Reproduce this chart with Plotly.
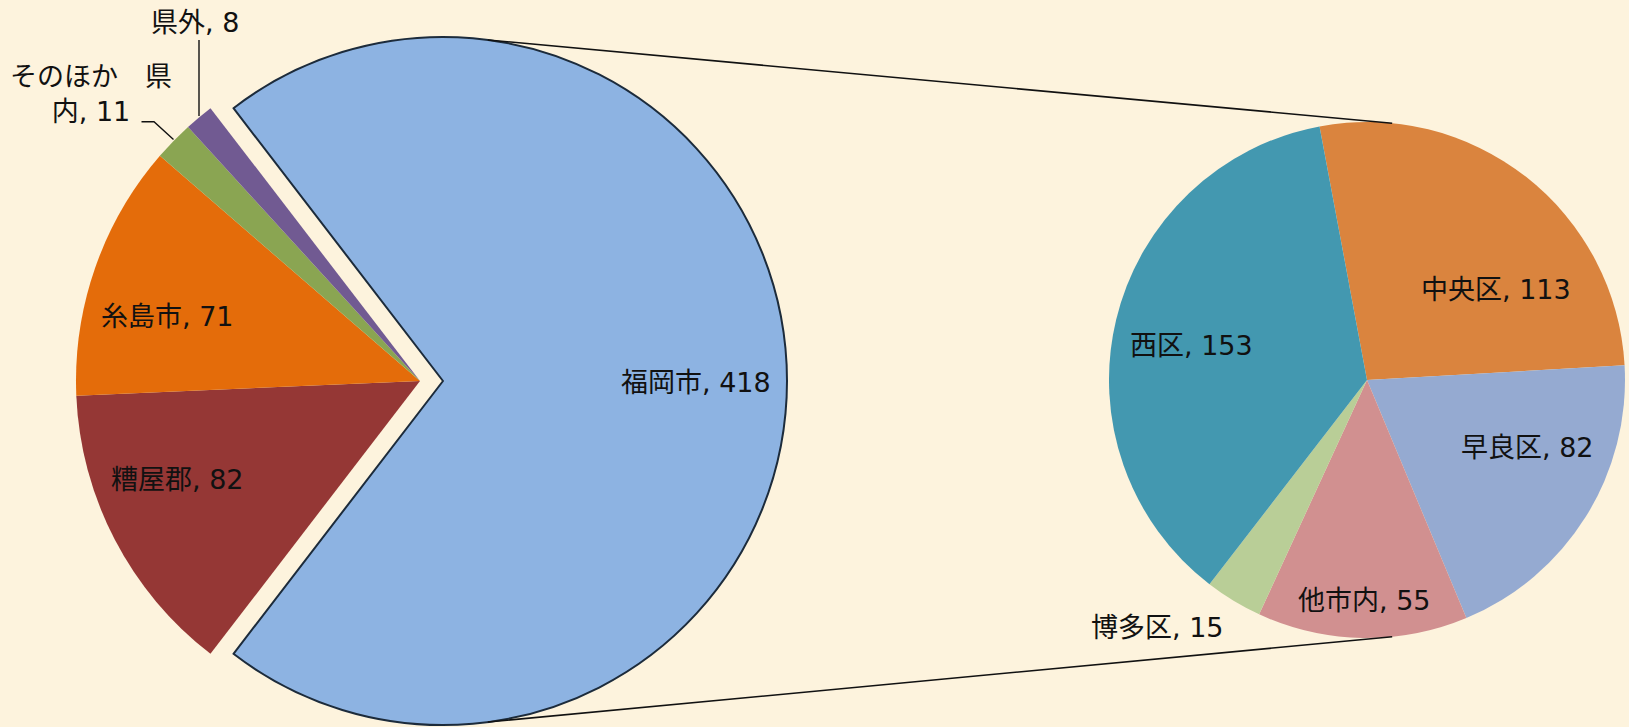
import math
import plotly.graph_objects as go

W, H = 1629, 727

# ---- data ----
left_labels = ["福岡市", "糟屋郡", "糸島市", "そのほか県内", "県外"]
left_values = [418, 82, 71, 11, 8]
left_colors = ["#8DB3E2", "#953735", "#E46C0A", "#8AA552", "#715A92"]

right_labels = ["中央区", "早良区", "他市内", "博多区", "西区"]
right_values = [113, 82, 55, 15, 153]
right_colors = ["#DA843E", "#95AAD1", "#D19090", "#B9CE97", "#4398B0"]

BG = "#FDF3DD"
FONT = "DejaVu Sans, Noto Sans CJK JP, sans-serif"
FS = 27

# ---- geometry (pixels) ----
L_CX, L_CY, L_R = 420, 381, 344
PULL_PX = 23
R_CX, R_CY, R_R = 1367, 380, 258


def px(x):
    return x / W


def py(y):
    return 1 - y / H


def domain(cx, cy, r):
    hw = r + 1
    return dict(x=[px(cx - hw), px(cx + hw)], y=[py(cy + r), py(cy - r)])


TRANSP = "rgba(0,0,0,0)"
total_l = sum(left_values)
rot_l = -(left_values[0] / total_l * 180 - 90)

fig = go.Figure()

# small slices of left pie (big slice transparent)
fig.add_trace(go.Pie(
    labels=left_labels, values=left_values, sort=False, direction="clockwise",
    rotation=rot_l, domain=domain(L_CX, L_CY, L_R),
    marker=dict(colors=[TRANSP] + left_colors[1:],
                line=dict(width=[0] * len(left_values), color=TRANSP)),
    textinfo="none", showlegend=False, hoverinfo="label+value",
))
# exploded big slice
fig.add_trace(go.Pie(
    labels=left_labels, values=left_values, sort=False, direction="clockwise",
    rotation=rot_l, domain=domain(L_CX + PULL_PX, L_CY, L_R),
    marker=dict(colors=[left_colors[0]] + [TRANSP] * (len(left_values) - 1),
                line=dict(width=[2] + [0] * (len(left_values) - 1), color="#1C2B3B")),
    textinfo="none", showlegend=False, hoverinfo="label+value",
))
# right pie
fig.add_trace(go.Pie(
    labels=right_labels, values=right_values, sort=False, direction="clockwise",
    rotation=-10.6, domain=domain(R_CX, R_CY, R_R),
    marker=dict(colors=right_colors, line=dict(width=0)),
    textinfo="none", showlegend=False, hoverinfo="label+value",
))

# ---- labels ----
label_pos_left = {
    "福岡市": (696, 382),
    "糟屋郡": (177, 479),
    "糸島市": (167, 316),
    "そのほか県内": (91, 94),
    "県外": (195, 22),
}
label_pos_right = {
    "中央区": (1496, 289),
    "早良区": (1527, 447),
    "他市内": (1364, 600),
    "西区": (1191, 345),
    "博多区": (1157, 627),
}
annotations = []
for lab, val in zip(left_labels, left_values):
    x, y = label_pos_left[lab]
    txt = f"{lab}, {val}"
    if lab == "そのほか県内":
        txt = f"{lab[:4]}　{lab[4]}<br>{lab[5:]}, {val}"
    annotations.append(dict(x=px(x), y=py(y), xref="paper", yref="paper", text=txt,
                            showarrow=False, xanchor="center", yanchor="middle",
                            font=dict(family=FONT, size=FS, color="#111111")))
for lab, val in zip(right_labels, right_values):
    x, y = label_pos_right[lab]
    annotations.append(dict(x=px(x), y=py(y), xref="paper", yref="paper",
                            text=f"{lab}, {val}", showarrow=False,
                            xanchor="center", yanchor="middle",
                            font=dict(family=FONT, size=FS, color="#111111")))

# ---- connector lines ----
shapes = []
bx = L_CX + PULL_PX
a_l, a_r = math.radians(82.5), math.radians(84.4)
for s in (1, -1):
    x0 = bx + L_R * math.cos(a_l)
    y0 = L_CY - s * L_R * math.sin(a_l)
    x1 = R_CX + R_R * math.cos(a_r)
    y1 = R_CY - s * R_R * math.sin(a_r)
    shapes.append(dict(type="line", xref="paper", yref="paper",
                       x0=px(x0), y0=py(y0), x1=px(x1), y1=py(y1),
                       line=dict(color="#111111", width=1.6)))

# leader lines
shapes.append(dict(type="line", xref="paper", yref="paper",
                   x0=px(199), y0=py(40), x1=px(199), y1=py(116),
                   line=dict(color="#111111", width=1.4)))
shapes.append(dict(type="path", xref="paper", yref="paper",
                   path=f"M {px(141.5)} {py(121.7)} L {px(154)} {py(121.7)} L {px(173.5)} {py(139.5)}",
                   line=dict(color="#111111", width=1.4)))

fig.update_layout(
    width=W, height=H,
    margin=dict(l=0, r=0, t=0, b=0),
    paper_bgcolor=BG, plot_bgcolor=BG,
    annotations=annotations, shapes=shapes,
    showlegend=False,
)

fig.write_html("out.html", config={"displayModeBar": False},
               post_script="document.body.style.margin='0';document.body.style.overflow='hidden';")
